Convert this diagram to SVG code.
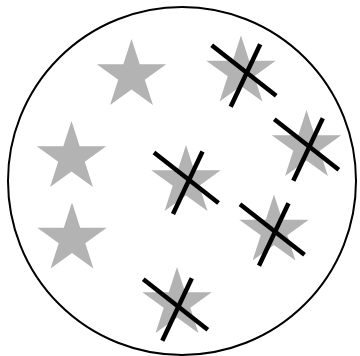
<svg xmlns="http://www.w3.org/2000/svg" xmlns:xlink="http://www.w3.org/1999/xlink" width="360" height="356" viewBox="0 0 360 356">
<style>
.star{fill:#b3b3b3;stroke:none}
.x{stroke:#000;stroke-width:4.5;fill:none}
</style>
<defs>
<path id="star" class="star" d="M0,-36.5 L8.19,-11.28 L34.71,-11.28 L13.26,4.31 L21.45,29.53 L0,13.94 L-21.45,29.53 L-13.26,4.31 L-34.71,-11.28 L-8.19,-11.28 Z"/>
<g id="cross" class="x"><line x1="-35" y1="-27.5" x2="29.5" y2="23"/><line x1="13.5" y1="-28.5" x2="-16" y2="34"/></g>
</defs>
<rect width="360" height="356" fill="#fff"/>
<circle cx="182" cy="181" r="174" fill="none" stroke="#000" stroke-width="2"/>
<g id="star1"><use xlink:href="#star" x="131.5" y="75.5"/></g>
<g id="star2"><use xlink:href="#star" x="241" y="72"/><use xlink:href="#cross" x="246.7" y="72.7"/></g>
<g id="star3"><use xlink:href="#star" x="71.5" y="157.5"/></g>
<g id="star4"><use xlink:href="#star" x="72" y="239"/></g>
<g id="star5"><use xlink:href="#star" x="186" y="181.5"/><use xlink:href="#cross" x="189" y="180"/></g>
<g id="star6"><use xlink:href="#star" x="306.5" y="146.5"/><use xlink:href="#cross" x="309.3" y="146.7"/></g>
<g id="star7"><use xlink:href="#star" x="274" y="231"/><use xlink:href="#cross" x="275" y="231.7"/></g>
<g id="star8"><use xlink:href="#star" x="177" y="303.5"/><use xlink:href="#cross" x="178.3" y="306.7"/></g>
</svg>
